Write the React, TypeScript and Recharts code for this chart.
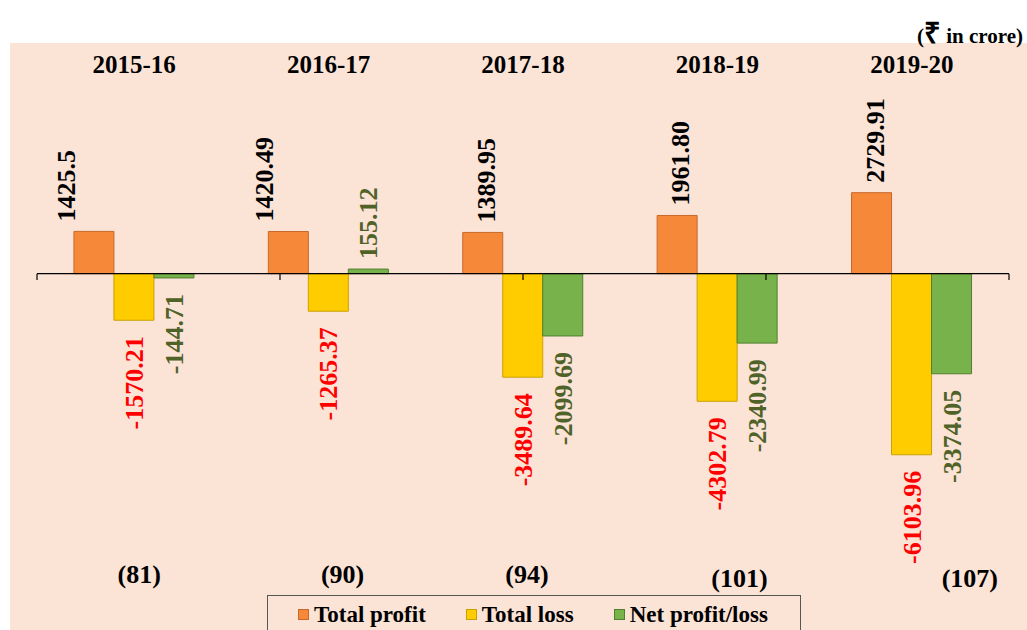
import React from 'react';
import { BarChart, Bar, XAxis, YAxis, ReferenceLine, LabelList } from 'recharts';

const years = ['2015-16', '2016-17', '2017-18', '2018-19', '2019-20'];
const psuCounts = ['(81)', '(90)', '(94)', '(101)', '(107)'];
const totalProfit = [1425.5, 1420.49, 1389.95, 1961.8, 2729.91];
const totalLoss = [-1570.21, -1265.37, -3489.64, -4302.79, -6103.96];
const netProfitLoss = [-144.71, 155.12, -2099.69, -2340.99, -3374.05];
const profitLabels = ['1425.5', '1420.49', '1389.95', '1961.80', '2729.91'];
const lossLabels = ['-1570.21', '-1265.37', '-3489.64', '-4302.79', '-6103.96'];
const netLabels = ['-144.71', '155.12', '-2099.69', '-2340.99', '-3374.05'];

// label nudges (layout only)
const profitLabelDx = [-28, -24, 3, 3, 3];
const countLabelDx = [5, 14, 4, 22, 58];
const countLabelDy = [0, 0, 0, 4, 4];

const data = years.map((year, i) => ({
  year,
  count: psuCounts[i],
  profit: totalProfit[i],
  loss: totalLoss[i],
  net: netProfitLoss[i],
}));

const COLORS = {
  profit: '#F6883A',
  profitStroke: '#C8682A',
  loss: '#FFCC00',
  lossStroke: '#C9A200',
  net: '#78B24B',
  netStroke: '#4F8030',
};

const FONT = '"Liberation Serif", "Times New Roman", serif';
const PEACH = '#FBE3D6';

const makeLabel = (values: number[], labels: string[], color: string, dxs?: number[]) => (props: any) => {
  const { index } = props;
  const x = Number(props.x);
  const y = Number(props.y);
  const w = Number(props.width);
  const h = Number(props.height);
  const v = values[index];
  const cx = x + w / 2 + (dxs ? dxs[index] : 0);
  const top = Math.min(y, y + h);
  const bottom = Math.max(y, y + h);
  const pos = v >= 0;
  const ay = pos ? top - 10 : bottom + 16;
  return (
    <text
      x={cx}
      y={ay}
      dy="0.35em"
      transform={`rotate(-90, ${cx}, ${ay})`}
      textAnchor={pos ? 'start' : 'end'}
      fill={color}
      fontFamily={FONT}
      fontWeight="bold"
      fontSize={26}
    >
      {labels[index]}
    </text>
  );
};

const YearTick = (props: any) => {
  const { x, y, payload } = props;
  return (
    <text x={x} y={y} dy={-82} textAnchor="middle" fontFamily={FONT} fontWeight="bold" fontSize={25} fill="#000">
      {payload.value}
    </text>
  );
};

const CountTick = (props: any) => {
  const { x, y, payload, index } = props;
  return (
    <text
      x={Number(x) + countLabelDx[index]}
      y={y}
      dy={72 + countLabelDy[index]}
      textAnchor="middle"
      fontFamily={FONT}
      fontWeight="bold"
      fontSize={26}
      fill="#000"
    >
      {payload.value}
    </text>
  );
};

const legendItems = [
  { name: 'Total profit', color: COLORS.profit, stroke: COLORS.profitStroke },
  { name: 'Total loss', color: COLORS.loss, stroke: COLORS.lossStroke },
  { name: 'Net profit/loss', color: COLORS.net, stroke: COLORS.netStroke },
];

const boundaryTicks = [0, 1, 2, 3, 4, 5];

export default function App() {
  return (
    <div style={{ position: 'absolute', left: 0, top: 0, width: 1027, height: 630, overflow: 'hidden', background: '#fff' }}>
      <div style={{ position: 'absolute', left: 10, top: 43, width: 1017, height: 587, background: PEACH }} />
      <div
        style={{
          position: 'absolute',
          right: 4,
          top: 12,
          fontFamily: FONT,
          fontWeight: 'bold',
          fontSize: 21,
          color: '#000',
          whiteSpace: 'nowrap',
        }}
      >
        (<span style={{ fontSize: 29 }}>₹</span> in crore)
      </div>
      <div style={{ position: 'absolute', left: 0, top: 0 }}>
        <BarChart
          width={1027}
          height={630}
          data={data}
          margin={{ top: 65, right: 18, bottom: 0, left: 37 }}
          barCategoryGap="19%"
          barGap={0}
        >
          <XAxis
            xAxisId="top"
            orientation="top"
            dataKey="year"
            height={90}
            axisLine={false}
            tickLine={false}
            tickSize={0}
            tickMargin={0}
            tick={<YearTick />}
            interval={0}
          />
          <XAxis
            dataKey="count"
            height={119}
            axisLine={false}
            tickLine={false}
            tickSize={0}
            tickMargin={0}
            tick={<CountTick />}
            interval={0}
          />
          <XAxis xAxisId="num" type="number" domain={[0, 5]} allowDataOverflow hide />
          <YAxis domain={[-8000, 4000]} allowDataOverflow hide />
          <ReferenceLine y={0} stroke="#000" strokeWidth={1.2} />
          {boundaryTicks.map((t) => (
            <ReferenceLine
              key={t}
              xAxisId="num"
              segment={[
                { x: t, y: 0 },
                { x: t, y: -210 },
              ]}
              stroke="#000"
              strokeWidth={1.2}
              ifOverflow="visible"
            />
          ))}
          <Bar dataKey="profit" name="Total profit" fill={COLORS.profit} stroke={COLORS.profitStroke} strokeWidth={1} isAnimationActive={false}>
            <LabelList dataKey="profit" content={makeLabel(totalProfit, profitLabels, '#000', profitLabelDx)} />
          </Bar>
          <Bar dataKey="loss" name="Total loss" fill={COLORS.loss} stroke={COLORS.lossStroke} strokeWidth={1} isAnimationActive={false}>
            <LabelList dataKey="loss" content={makeLabel(totalLoss, lossLabels, '#FF0000')} />
          </Bar>
          <Bar dataKey="net" name="Net profit/loss" fill={COLORS.net} stroke={COLORS.netStroke} strokeWidth={1} isAnimationActive={false}>
            <LabelList dataKey="net" content={makeLabel(netProfitLoss, netLabels, '#4F6228')} />
          </Bar>
        </BarChart>
      </div>
      <div
        style={{
          position: 'absolute',
          left: 267,
          top: 595,
          width: 534,
          height: 40,
          border: '1px solid #555',
          boxSizing: 'border-box',
          background: PEACH,
          display: 'flex',
          alignItems: 'flex-start',
          paddingLeft: 30,
          paddingTop: 7,
          gap: 40,
          fontFamily: FONT,
          fontWeight: 'bold',
          fontSize: 23,
          lineHeight: '23px',
          color: '#000',
        }}
      >
        {legendItems.map((it) => (
          <div key={it.name} style={{ display: 'flex', alignItems: 'center', whiteSpace: 'nowrap' }}>
            <span
              style={{
                display: 'inline-block',
                width: 11,
                height: 11,
                background: it.color,
                border: `1px solid ${it.stroke}`,
                boxSizing: 'border-box',
                marginRight: 5,
              }}
            />
            <span>{it.name}</span>
          </div>
        ))}
      </div>
    </div>
  );
}
